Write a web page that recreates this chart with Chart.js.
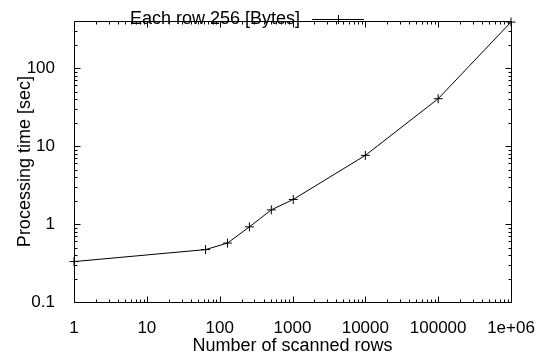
<!DOCTYPE html>
<html>
<head>
<meta charset="utf-8">
<script src="https://cdn.jsdelivr.net/npm/chart.js@4"></script>
<style>
  html, body { margin: 0; padding: 0; background: #fff; }
  #wrap { width: 558px; height: 363px; }
</style>
</head>
<body>
<div id="wrap"><canvas id="timeChart" width="558" height="363"></canvas></div>
<script>
const scannedRows = [1, 64, 128, 256, 512, 1024, 10000, 100000, 1000000];
const processingTime = [0.33, 0.47, 0.57, 0.92, 1.52, 2.07, 7.6, 40.5, 390];
const seriesLabel = "Each row 256 [Bytes]";

const xTickValues = [1, 10, 100, 1000, 10000, 100000, 1000000];
const xTickLabels = ["1", "10", "100", "1000", "10000", "100000", "1e+06"];
const yTickValues = [0.1, 1, 10, 100];
const yTickLabels = ["0.1", "1", "10", "100"];

const fontFamily = "'Liberation Sans', Arial, sans-serif";

function minorTicks(min, max) {
  const values = [];
  for (let decade = Math.floor(Math.log10(min)); decade <= Math.ceil(Math.log10(max)); decade++) {
    for (let k = 2; k <= 9; k++) {
      const value = k * Math.pow(10, decade);
      if (value > min && value < max) {
        values.push(value);
      }
    }
  }
  return values;
}

// gnuplot style frame with inward ticks on all four sides
const framePlugin = {
  id: "frame",
  afterDatasetsDraw(chart) {
    const { ctx, chartArea, scales } = chart;
    const left = Math.round(chartArea.left) + 0.5;
    const right = Math.round(chartArea.right) + 0.5;
    const top = Math.round(chartArea.top) + 0.5;
    const bottom = Math.round(chartArea.bottom) + 0.5;

    ctx.save();
    ctx.strokeStyle = "#000";
    ctx.lineWidth = 1;
    ctx.beginPath();

    const xTick = (value, length) => {
      const x = Math.round(scales.x.getPixelForValue(value)) + 0.5;
      ctx.moveTo(x, bottom);
      ctx.lineTo(x, bottom - length);
      ctx.moveTo(x, top);
      ctx.lineTo(x, top + length);
    };
    const yTick = (value, length) => {
      const y = Math.round(scales.y.getPixelForValue(value)) + 0.5;
      ctx.moveTo(left, y);
      ctx.lineTo(left + length, y);
      ctx.moveTo(right, y);
      ctx.lineTo(right - length, y);
    };

    xTickValues.forEach((value) => xTick(value, 6));
    minorTicks(scales.x.min, scales.x.max).forEach((value) => xTick(value, 3));
    yTickValues.forEach((value) => yTick(value, 6));
    minorTicks(scales.y.min, scales.y.max).forEach((value) => yTick(value, 3));

    ctx.rect(left, top, right - left, bottom - top);
    ctx.stroke();
    ctx.restore();
  },
};

// legend: text first, then line sample with marker, as gnuplot does
const keyPlugin = {
  id: "key",
  afterDraw(chart) {
    const { ctx } = chart;
    const dataset = chart.data.datasets[0];
    const textRight = 300;
    const lineLeft = 312;
    const lineRight = 364;
    const y = 19.5;

    ctx.save();
    ctx.fillStyle = "#000";
    ctx.font = "18px " + fontFamily;
    ctx.textAlign = "right";
    ctx.textBaseline = "middle";
    ctx.fillText(dataset.label, textRight, y);

    ctx.strokeStyle = "#000";
    ctx.lineWidth = 1;
    ctx.beginPath();
    ctx.moveTo(lineLeft, y);
    ctx.lineTo(lineRight, y);
    const mid = Math.round((lineLeft + lineRight) / 2) + 0.5;
    ctx.moveTo(mid, y - 4.5);
    ctx.lineTo(mid, y + 4.5);
    ctx.stroke();
    ctx.restore();
  },
};

new Chart(document.getElementById("timeChart"), {
  type: "scatter",
  data: {
    datasets: [
      {
        label: seriesLabel,
        data: scannedRows.map((rows, index) => ({ x: rows, y: processingTime[index] })),
        showLine: true,
        tension: 0,
        borderColor: "#000",
        borderWidth: 1,
        pointStyle: "cross",
        pointRadius: 4.5,
        pointBorderColor: "#000",
        pointBorderWidth: 1,
        pointHoverRadius: 4.5,
        clip: false,
      },
    ],
  },
  options: {
    responsive: false,
    animation: false,
    events: [],
    layout: {
      padding: { left: 0, right: 47, top: 4, bottom: 0 },
    },
    plugins: {
      legend: { display: false },
      tooltip: { enabled: false },
    },
    scales: {
      x: {
        type: "logarithmic",
        min: 1,
        max: 1000000,
        grid: { display: false },
        border: { display: false },
        afterBuildTicks(scale) {
          scale.ticks = xTickValues.map((value) => ({ value }));
        },
        afterFit(scale) {
          scale.height = 61;
        },
        ticks: {
          color: "#000",
          padding: 8,
          maxRotation: 0,
          autoSkip: false,
          font: { family: fontFamily, size: 17 },
          callback: (value) => xTickLabels[xTickValues.indexOf(value)] ?? "",
        },
        title: {
          display: true,
          text: "Number of scanned rows",
          color: "#000",
          font: { family: fontFamily, size: 18 },
          padding: { top: 0, bottom: 6 },
        },
      },
      y: {
        type: "logarithmic",
        min: 0.1,
        max: 400,
        grid: { display: false },
        border: { display: false },
        afterBuildTicks(scale) {
          scale.ticks = yTickValues.map((value) => ({ value }));
        },
        afterFit(scale) {
          scale.width = 74;
        },
        ticks: {
          color: "#000",
          padding: 11,
          autoSkip: false,
          font: { family: fontFamily, size: 17 },
          callback: (value) => yTickLabels[yTickValues.indexOf(value)] ?? "",
        },
        title: {
          display: true,
          text: "Processing time [sec]",
          color: "#000",
          font: { family: fontFamily, size: 18 },
          padding: { top: 14, bottom: 0 },
        },
      },
    },
  },
  plugins: [framePlugin, keyPlugin],
});
</script>
</body>
</html>
